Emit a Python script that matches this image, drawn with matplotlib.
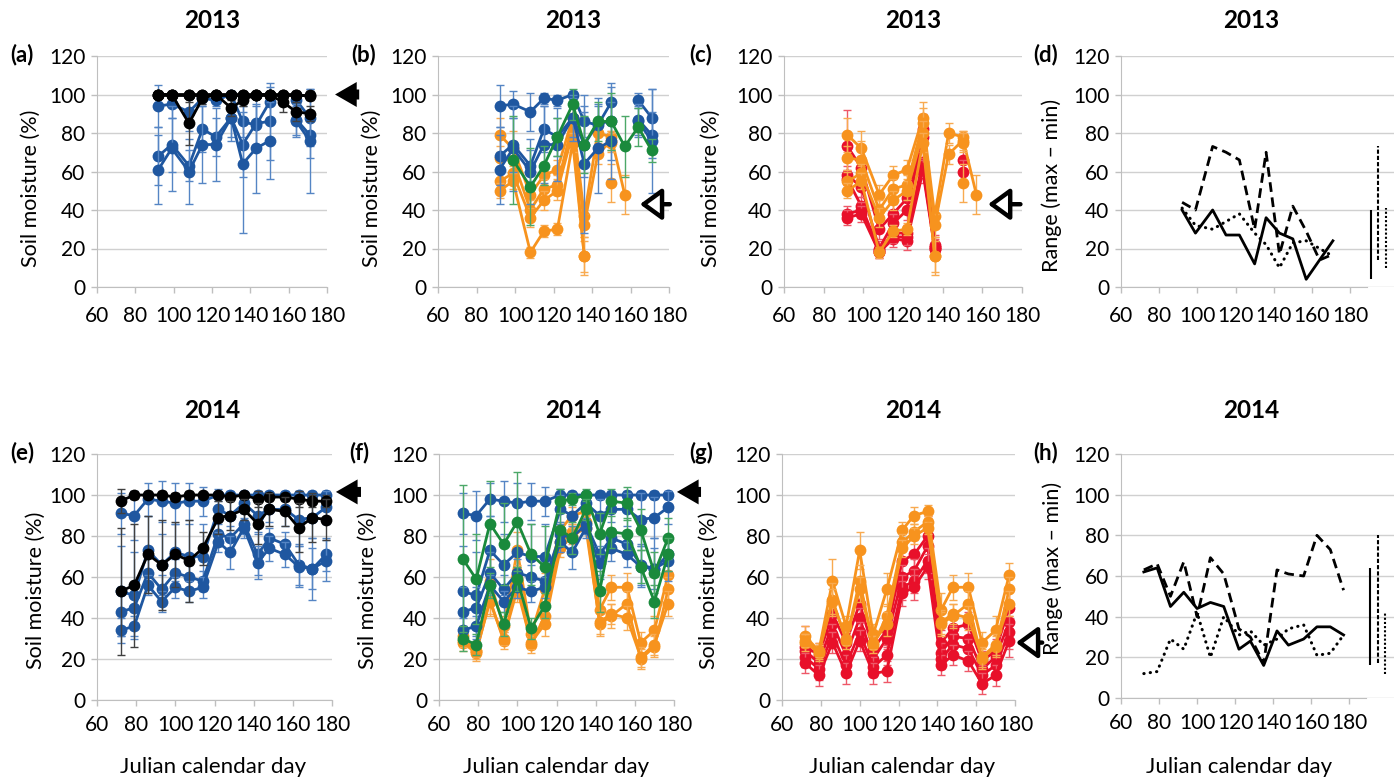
import numpy as np
import matplotlib
matplotlib.use('Agg')
import matplotlib.pyplot as plt

plt.rcParams['font.family'] = ['Lato', 'DejaVu Sans']

nan = np.nan

# julian days of sampling
days_2013 = [92, 99, 108, 115, 122, 130, 136, 143, 150, 157, 164, 171]
days_2014 = [72, 79, 86, 93, 100, 107, 114, 122, 128, 135, 142, 148, 156, 163, 170, 177]

# ---------- 2013 soil moisture (%) ----------
black_2013 = [
    [100, 100, 100, 100, 100, 100, 100, 100, 100, 100, 100, 100],
    [100, 100, 85, 98, 100, 93, 97, 100, 100, 96, 91, 90],
    [100, 100, 100, 100, 100, 100, 100, 100, 100, 100, 100, 99],
]
black_2013_err = [
    [2, 1, 2, 1, 1, 2, 2, 1, 1, 2, 2, 2],
    [2, 2, 11, 3, 2, 4, 3, 2, 2, 5, 5, 4],
    [1, 1, 1, 1, 1, 1, 1, 1, 1, 1, 1, 2],
]
blue_2013 = [
    [94, 95, 91, 98, 97, 100, 86, 84, 96, nan, 97, 88],
    [68, 74, 63, 82, 78, 88, 74, 85, 86, nan, 87, 79],
    [61, 72, 60, 74, 74, 88, 64, 72, 76, nan, 86, 76],
]
blue_2013_err = [
    [11, 7, 10, 3, 3, 2, 8, 10, 8, nan, 4, 15],
    [15, 14, 8, 12, 10, 10, 17, 13, 20, nan, 8, 12],
    [18, 22, 17, 20, 19, 12, 36, 23, 20, nan, 8, 27],
]
green_2013 = [[nan, 66, 52, 63, 78, 95, 74, 86, 86, 73, 83, 71]]
green_2013_err = [[nan, 23, 20, 10, 10, 8, 15, 10, 15, 16, 10, 6]]
orange_2013 = [
    [79, 72, 48, 58, 61, 88, 37, 80, 78, 48, nan, nan],
    [67, 66, 40, 51, 53, 85, 32, 69, 76, nan, nan, nan],
    [55, 59, 36, 45, 50, 80, 16, nan, 75, nan, nan, nan],
    [50, 55, 18, 29, 30, 75, 16, nan, 54, nan, nan, nan],
]
orange_2013_err = [
    [9, 9, 5, 5, 5, 8, 5, 5, 3, 10, nan, nan],
    [6, 10, 5, 5, 5, 8, 6, 5, 5, nan, nan, nan],
    [5, 5, 5, 5, 5, 6, 8, nan, 5, nan, nan, nan],
    [4, 4, 3, 3, 3, 5, 10, nan, 10, nan, nan, nan],
]
red_2013 = [
    [73, 62, 30, 38, 46, 82, 22, nan, 66, nan, nan, nan],
    [58, 52, 20, 33, 40, 78, 21, nan, 60, nan, nan, nan],
    [56, 42, 19, 28, 28, 65, 20, nan, nan, nan, nan, nan],
    [38, 40, 18, 25, 24, 60, 20, nan, nan, nan, nan, nan],
    [36, 38, 18, 26, 26, 62, 21, nan, nan, nan, nan, nan],
]
red_2013_err = [
    [19, 6, 5, 5, 6, 8, 5, nan, 8, nan, nan, nan],
    [5, 5, 4, 5, 5, 6, 4, nan, 6, nan, nan, nan],
    [5, 5, 3, 4, 4, 6, 3, nan, nan, nan, nan, nan],
    [4, 4, 3, 4, 5, 6, 3, nan, nan, nan, nan, nan],
    [4, 4, 3, 3, 4, 5, 3, nan, nan, nan, nan, nan],
]

# range (max - min) 2013
range_2013_solid = [40, 28, 40, 27, 27, 12, 36, 28, 25, 4, 14, 24]
range_2013_dash = [44, 40, 73, 70, 66, 30, 70, 17, 42, 29, 14, 17]
range_2013_dot = [41, 32, 30, 34, 38, 28, 22, 10, 23, 24, 20, 16]

# ---------- 2014 soil moisture (%) ----------
black_2014 = [
    [97, 100, 100, 100, 99, 100, 100, 100, 99, 100, 98, 99, 99, 98, 97, 97],
    [53, 56, 71, 66, 71, 68, 74, 89, 90, 93, 86, 93, 92, 84, 89, 88],
]
black_2014_err = [
    [6, 2, 2, 2, 2, 2, 1, 1, 2, 1, 4, 2, 2, 4, 3, 3],
    [31, 30, 19, 22, 16, 20, 8, 8, 7, 5, 10, 8, 7, 12, 12, 10],
]
blue_2014 = [
    [91, 90, 98, 97, 96, 97, 97, 100, 100, 100, 100, 100, 100, 100, 100, 100],
    [53, 51, 73, 66, 72, 70, 70, 93, 90, 96, 90, 93, 93, 88, 89, 94],
    [43, 45, 62, 54, 62, 60, 58, 81, 79, 86, 71, 79, 76, 66, 64, 71],
    [34, 36, 56, 48, 55, 53, 55, 77, 72, 84, 67, 74, 71, 65, 64, 68],
]
blue_2014_err = [
    [10, 12, 8, 10, 10, 9, 7, 3, 2, 2, 2, 2, 2, 2, 2, 2],
    [22, 21, 17, 15, 14, 16, 16, 7, 10, 5, 8, 6, 8, 13, 10, 8],
    [12, 10, 10, 7, 7, 6, 5, 6, 6, 5, 10, 5, 6, 10, 10, 8],
    [6, 5, 5, 5, 5, 5, 5, 5, 8, 5, 8, 6, 6, 10, 15, 10],
]
green_2014 = [
    [69, 59, 86, 76, 87, 71, 65, 97, 98, 100, 81, 97, 96, 83, 62, 79],
    [30, 27, 56, 37, 59, 35, 46, 83, 79, 93, 53, 82, 81, 65, 48, 71],
]
green_2014_err = [
    [36, 22, 21, 20, 24, 15, 20, 6, 3, 3, 10, 6, 8, 10, 10, 10],
    [6, 5, 6, 6, 6, 5, 6, 8, 8, 5, 10, 8, 8, 8, 8, 8],
]
orange_2014 = [
    [31, 24, 58, 36, 73, 32, 54, 83, 90, 92, 44, 55, 55, 28, 34, 61],
    [28, 23, 49, 29, 58, 27, 41, 77, 82, 87, 37, 41, 47, 20, 26, 54],
    [29, 24, 48, 30, 54, 28, 37, 74, 80, 84, 38, 42, 40, 21, 27, 47],
]
orange_2014_err = [
    [5, 4, 11, 5, 9, 5, 8, 4, 4, 3, 8, 6, 7, 5, 7, 6],
    [4, 4, 8, 4, 8, 4, 6, 4, 4, 3, 6, 6, 6, 5, 5, 6],
    [3, 3, 6, 3, 6, 3, 6, 4, 4, 3, 6, 5, 6, 5, 5, 6],
]
red_2014 = [
    [26, 22, 42, 28, 47, 25, 34, 68, 71, 80, 28, 35, 37, 19, 24, 45],
    [24, 18, 37, 22, 40, 20, 30, 60, 63, 75, 23, 31, 30, 15, 21, 38],
    [21, 15, 32, 17, 33, 16, 22, 55, 58, 68, 20, 27, 25, 12, 17, 33],
    [18, 12, 28, 13, 29, 13, 14, 52, 55, 65, 17, 22, 19, 8, 12, 29],
]
red_2014_err = [
    [10, 6, 8, 6, 8, 5, 8, 8, 10, 10, 6, 6, 6, 5, 6, 10],
    [5, 5, 5, 5, 5, 5, 5, 6, 6, 6, 5, 5, 5, 5, 5, 8],
    [5, 5, 5, 5, 5, 5, 5, 6, 6, 6, 5, 5, 5, 5, 5, 8],
    [5, 5, 5, 5, 5, 5, 5, 6, 6, 6, 5, 5, 5, 5, 5, 8],
]

# range (max - min) 2014
range_2014_solid = [62, 64, 45, 52, 44, 47, 45, 24, 28, 16, 33, 26, 29, 35, 35, 31]
range_2014_dash = [63, 66, 50, 67, 40, 69, 61, 34, 30, 17, 63, 61, 60, 80, 73, 53]
range_2014_dot = [12, 13, 29, 24, 42, 20, 40, 31, 33, 26, 29, 34, 36, 21, 22, 31]

# colours
c_black, e_black = '#000000', '#404040'
c_blue, e_blue = '#1F57A0', '#5585C4'
c_green, e_green = '#1A8A3C', '#4CA868'
c_orange, e_orange = '#F7931E', '#F8AA50'
c_red, e_red = '#E8102A', '#EE5868'

W, H = 1394, 779
fig = plt.figure(figsize=(W / 100, H / 100), dpi=100)


def add_ax(x0, x1, y0, y1):
    return fig.add_axes([x0 / W, 1 - y1 / H, (x1 - x0) / W, (y1 - y0) / H])


def ftext(x, y, s, **kw):
    fig.text(x / W, 1 - y / H, s, **kw)


def style(ax, xmax=180, pad=9):
    ax.set_xlim(60, xmax)
    ax.set_ylim(0, 120)
    ax.set_xticks(range(60, 181, 20))
    ax.set_yticks(range(0, 121, 20))
    ax.grid(axis='y', color='#D0D0D0', lw=1)
    ax.set_axisbelow(True)
    ax.patch.set_alpha(0)
    for s in ['top', 'right']:
        ax.spines[s].set_visible(False)
    for s in ['left', 'bottom']:
        ax.spines[s].set_color('#BFBFBF')
    ax.tick_params(colors='#BFBFBF', labelcolor='black', labelsize=15, length=4.5, width=1)
    ax.tick_params(axis='y', pad=4)
    ax.tick_params(axis='x', pad=pad)


def draw_group(ax, x, series, errs, color, ecolor):
    for y, e in zip(series, errs):
        ax.errorbar(x, y, yerr=e, fmt='none', ecolor=ecolor, elinewidth=1, capsize=3, capthick=1)
        ax.plot(x, y, '-o', color=color, lw=2, ms=8.5, mew=0)


def draw_range(ax, x, solid, dash, dot, xs):
    ax.plot(x, solid, color='k', lw=2)
    ax.plot(x, dash, color='k', lw=2, linestyle=(0, (3.5, 2)))
    ax.plot(x, dot, color='k', lw=2.2, linestyle=(0, (0.1, 2)), dash_capstyle='round')
    ax.vlines(xs[0], min(solid), max(solid), color='k', lw=1.5)
    ax.vlines(xs[1], min(dash), max(dash), color='k', lw=1.5, linestyle=(0, (2, 1)))
    ax.vlines(xs[2], min(dot), max(dot), color='k', lw=1.5, linestyle=(0, (1, 1)))


def arrow(ax, xh, xt, y, hollow=False):
    if hollow:
        props = dict(arrowstyle='-|>,head_length=0.55,head_width=0.4', mutation_scale=24,
                     lw=3.2, ec='black', fc='white', shrinkA=0, shrinkB=0)
    else:
        props = dict(arrowstyle='simple,head_length=0.65,head_width=0.75,tail_width=0.3',
                     mutation_scale=24, lw=0, fc='black', shrinkA=0, shrinkB=0)
    ax.annotate('', xy=(xh, y), xytext=(xt, y), annotation_clip=False, arrowprops=props)


# ---------- top row: 2013 ----------
ax_a = add_ax(97, 327, 56, 287)
ax_b = add_ax(438, 669, 56, 287)
ax_c = add_ax(784, 1022, 56, 287)
ax_d = add_ax(1121, 1394, 56, 287)

for ax in [ax_a, ax_b, ax_c]:
    style(ax, pad=9)
style(ax_d, xmax=203, pad=9)
ax_d.spines['bottom'].set_bounds(60, 189)

draw_group(ax_a, days_2013, blue_2013, blue_2013_err, c_blue, e_blue)
draw_group(ax_a, days_2013, black_2013, black_2013_err, c_black, e_black)
arrow(ax_a, 184.2, 196.8, 100)

draw_group(ax_b, days_2013, orange_2013, orange_2013_err, c_orange, e_orange)
draw_group(ax_b, days_2013, blue_2013, blue_2013_err, c_blue, e_blue)
draw_group(ax_b, days_2013, green_2013, green_2013_err, c_green, e_green)
arrow(ax_b, 164.9, 180.4, 43, hollow=True)

draw_group(ax_c, days_2013, red_2013, red_2013_err, c_red, e_red)
draw_group(ax_c, days_2013, orange_2013, orange_2013_err, c_orange, e_orange)
arrow(ax_c, 162.9, 179.2, 43, hollow=True)

draw_range(ax_d, days_2013, range_2013_solid, range_2013_dash, range_2013_dot, [191, 194.7, 198.9])

# ---------- bottom row: 2014 ----------
ax_e = add_ax(97, 332, 454, 700)
ax_f = add_ax(439, 674, 454, 700)
ax_g = add_ax(782, 1015, 454, 700)
ax_h = add_ax(1121, 1394, 454, 698)

for ax in [ax_e, ax_f, ax_g]:
    style(ax, pad=6)
style(ax_h, xmax=203.5, pad=6)
ax_h.spines['bottom'].set_bounds(60, 189)

draw_group(ax_e, days_2014, blue_2014, blue_2014_err, c_blue, e_blue)
draw_group(ax_e, days_2014, black_2014, black_2014_err, c_black, e_black)
arrow(ax_e, 182, 194.8, 101.5)

draw_group(ax_f, days_2014, orange_2014, orange_2014_err, c_orange, e_orange)
draw_group(ax_f, days_2014, blue_2014, blue_2014_err, c_blue, e_blue)
draw_group(ax_f, days_2014, green_2014, green_2014_err, c_green, e_green)
arrow(ax_f, 181.5, 193.8, 101.5)

draw_group(ax_g, days_2014, red_2014, red_2014_err, c_red, e_red)
draw_group(ax_g, days_2014, orange_2014, orange_2014_err, c_orange, e_orange)
arrow(ax_g, 180.5, 194, 28, hollow=True)

draw_range(ax_h, days_2014, range_2014_solid, range_2014_dash, range_2014_dot, [191, 195, 199])

# ---------- texts ----------
for xc, yr, y in [(212, '2013', 21), (573, '2013', 21), (913, '2013', 21), (1251, '2013', 21),
                  (212, '2014', 410), (573, '2014', 410), (913, '2014', 410), (1251, '2014', 410)]:
    ftext(xc, y, yr, ha='center', va='center', fontsize=17.5, fontweight='bold')

for x, y, s in [(10, 55, '(a)'), (351, 55, '(b)'), (689, 55, '(c)'), (1033, 55, '(d)'),
                (10, 453, '(e)'), (349, 453, '(f)'), (689, 453, '(g)'), (1033, 453, '(h)')]:
    ftext(x, y, s, ha='left', va='center', fontsize=16, fontweight='bold')

for x, y, s in [(31, 188, 'Soil moisture (%)'), (372, 188, 'Soil moisture (%)'),
                (711, 188, 'Soil moisture (%)'), (1052, 185, 'Range (max \u2013 min)'),
                (36, 590, 'Soil moisture (%)'), (368, 590, 'Soil moisture (%)'),
                (709, 590, 'Soil moisture (%)'), (1053, 568, 'Range (max \u2013 min)')]:
    ftext(x, y, s, ha='center', va='center', rotation=90, fontsize=15.5)

for x in [213, 556, 902, 1239]:
    ftext(x, 767, 'Julian calendar day', ha='center', va='center', fontsize=16)

fig.savefig('out.png', dpi=100)
